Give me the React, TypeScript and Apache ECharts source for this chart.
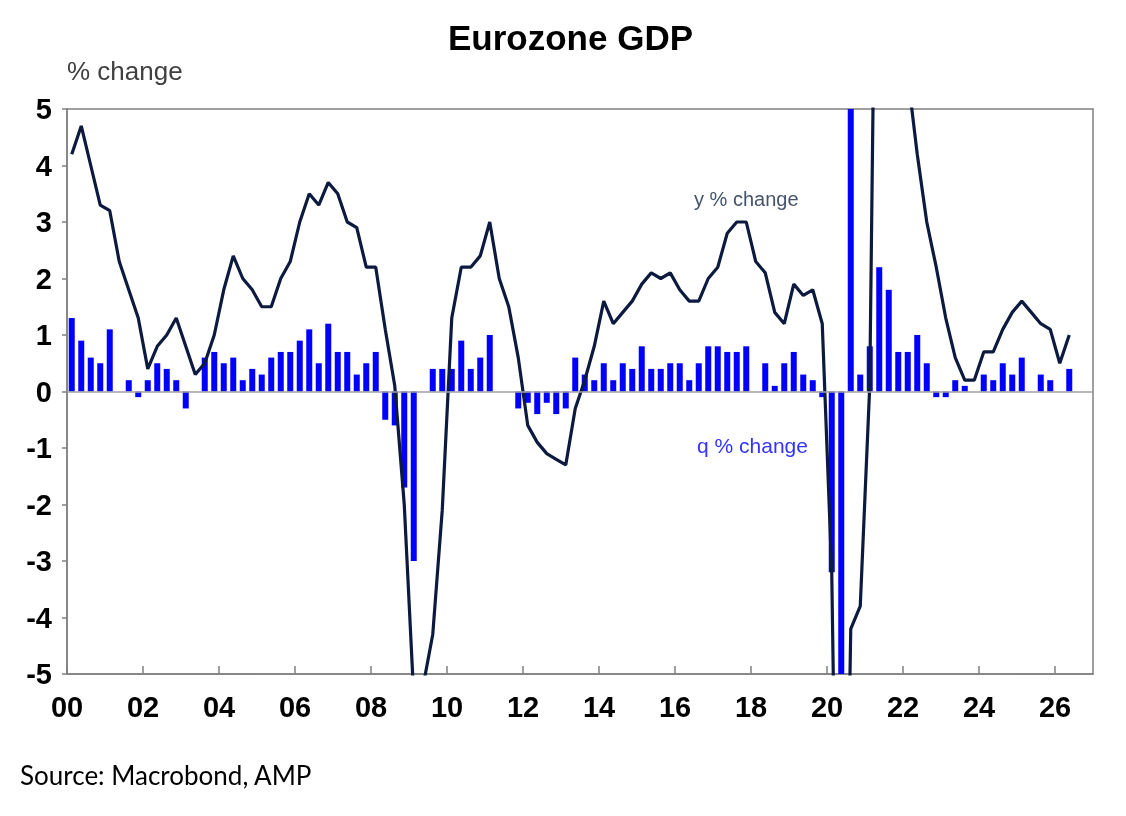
import React, { useRef, useEffect } from 'react';
import * as echarts from 'echarts';

// quarterly, 2000 Q1 .. 2026 Q2
const START_YEAR = 2000;

const qoqChange = [
  1.3, 0.9, 0.6, 0.5, 1.1, 0, 0.2, -0.1, 0.2, 0.5, 0.4, 0.2, -0.3, 0, 0.6, 0.7,
  0.5, 0.6, 0.2, 0.4, 0.3, 0.6, 0.7, 0.7, 0.9, 1.1, 0.5, 1.2, 0.7, 0.7, 0.3, 0.5,
  0.7, -0.5, -0.6, -1.7, -3.0, 0, 0.4, 0.4, 0.4, 0.9, 0.4, 0.6, 1.0, 0, 0, -0.3,
  -0.2, -0.4, -0.2, -0.4, -0.3, 0.6, 0.3, 0.2, 0.5, 0.2, 0.5, 0.4, 0.8, 0.4, 0.4, 0.5,
  0.5, 0.2, 0.5, 0.8, 0.8, 0.7, 0.7, 0.8, 0, 0.5, 0.1, 0.5, 0.7, 0.3, 0.2, -0.1,
  -3.2, -11.5, 12.5, 0.3, 0.8, 2.2, 1.8, 0.7, 0.7, 1.0, 0.5, -0.1, -0.1, 0.2, 0.1, 0,
  0.3, 0.2, 0.5, 0.3, 0.6, 0, 0.3, 0.2, 0, 0.4,
];

const yoyChange = [
  4.2, 4.7, 4.0, 3.3, 3.2, 2.3, 1.8, 1.3, 0.4, 0.8, 1.0, 1.3, 0.8, 0.3, 0.5, 1.0,
  1.8, 2.4, 2.0, 1.8, 1.5, 1.5, 2.0, 2.3, 3.0, 3.5, 3.3, 3.7, 3.5, 3.0, 2.9, 2.2,
  2.2, 1.1, 0.1, -2.0, -5.4, -5.2, -4.3, -2.1, 1.3, 2.2, 2.2, 2.4, 3.0, 2.0, 1.5, 0.6,
  -0.6, -0.9, -1.1, -1.2, -1.3, -0.3, 0.2, 0.8, 1.6, 1.2, 1.4, 1.6, 1.9, 2.1, 2.0, 2.1,
  1.8, 1.6, 1.6, 2.0, 2.2, 2.8, 3.0, 3.0, 2.3, 2.1, 1.4, 1.2, 1.9, 1.7, 1.8, 1.2,
  -3.2, -14.5, -4.2, -3.8, 0.1, 14.5, 6.0, 5.8, 5.6, 4.2, 3.0, 2.2, 1.3, 0.6, 0.2, 0.2,
  0.7, 0.7, 1.1, 1.4, 1.6, 1.4, 1.2, 1.1, 0.5, 1.0,
];

const xTickLabels = ['00', '02', '04', '06', '08', '10', '12', '14', '16', '18', '20', '22', '24', '26'];
const yTicks = [-5, -4, -3, -2, -1, 0, 1, 2, 3, 4, 5];

const FONT = '"Liberation Sans", Arial, sans-serif';

const App = () => {
  const chartRef = useRef(null);

  useEffect(() => {
    const myChart = echarts.init(chartRef.current, null, { renderer: 'svg' });

    // place each quarter in the middle of its slot
    const barData = qoqChange.map((v, i) => [i + 0.5, v]);
    const lineData = yoyChange.map((v, i) => [i + 0.5, v]);
    const totalQuarters = (2027 - START_YEAR) * 4;

    const option = {
      animation: false,
      title: {
        text: 'Eurozone GDP',
        left: 443,
        top: 15,
        textStyle: { fontFamily: FONT, fontSize: 35, fontWeight: 'bold', color: '#000' },
      },
      grid: {
        left: 67,
        top: 109,
        right: 33,
        bottom: 142,
        show: true,
        borderColor: '#808080',
        borderWidth: 1.5,
      },
      xAxis: {
        type: 'value',
        min: 0,
        max: totalQuarters,
        interval: 8,
        axisLine: { onZero: false, lineStyle: { color: '#808080', width: 1.5 } },
        axisTick: { inside: true, length: 8, lineStyle: { color: '#808080', width: 1.5 } },
        splitLine: { show: false },
        axisLabel: {
          margin: 18,
          showMaxLabel: false,
          fontFamily: FONT,
          fontSize: 29,
          fontWeight: 'bold',
          color: '#000',
          formatter: (v) => xTickLabels[v / 8] ?? '',
        },
      },
      yAxis: {
        type: 'value',
        min: yTicks[0],
        max: yTicks[yTicks.length - 1],
        interval: 1,
        axisLine: { show: true, onZero: false, lineStyle: { color: '#808080', width: 1.5 } },
        axisTick: { show: true, length: 5, lineStyle: { color: '#808080', width: 1.5 } },
        splitLine: { show: false },
        axisLabel: {
          margin: 15,
          fontFamily: FONT,
          fontSize: 29,
          fontWeight: 'bold',
          color: '#000',
        },
      },
      graphic: [
        {
          type: 'text',
          x: 67,
          y: 71,
          style: { text: '% change', font: `26px ${FONT}`, fill: '#404040', textVerticalAlign: 'middle' },
        },
        {
          type: 'text',
          x: 694,
          y: 199,
          style: { text: 'y % change', font: `20px ${FONT}`, fill: '#44546a', textVerticalAlign: 'middle' },
        },
        {
          type: 'text',
          x: 697,
          y: 445,
          style: { text: 'q % change', font: `21px ${FONT}`, fill: '#3333ff', textVerticalAlign: 'middle' },
        },
        {
          type: 'text',
          x: 20,
          y: 775,
          style: { text: 'Source: Macrobond, AMP', font: `26px Lato, "Open Sans", sans-serif`, fill: '#000', textVerticalAlign: 'middle' },
        },
      ],
      series: [
        {
          name: 'q % change',
          type: 'bar',
          data: barData,
          barWidth: 6,
          itemStyle: { color: '#0000ff' },
          markLine: {
            silent: true,
            symbol: 'none',
            label: { show: false },
            lineStyle: { color: '#a0a0a0', width: 1.5, type: 'solid' },
            data: [{ yAxis: 0 }],
          },
        },
        {
          name: 'y % change',
          type: 'line',
          data: lineData,
          showSymbol: false,
          symbol: 'none',
          lineStyle: { color: '#0d1a3f', width: 3.2 },
          z: 3,
        },
      ],
    };

    myChart.setOption(option);

    return () => {
      myChart.dispose();
    };
  }, []);

  return <div ref={chartRef} style={{ position: 'fixed', left: 0, top: 0, width: '1126px', height: '816px' }} />;
};

export default App;
